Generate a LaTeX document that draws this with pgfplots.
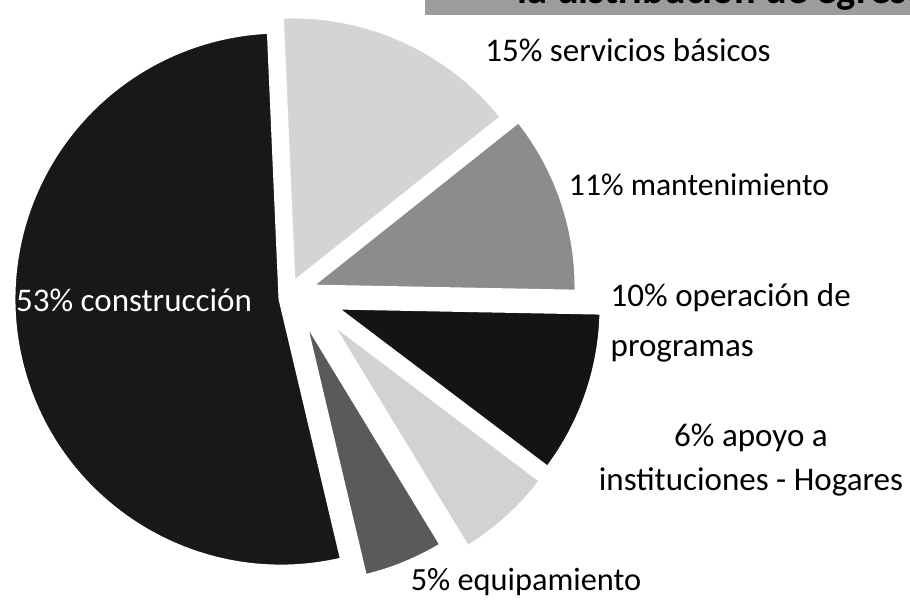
\documentclass[border=0pt]{standalone}
\usepackage{pgfplots}
\pgfplotsset{compat=1.18}
\usepackage{pgfplotstable}
\usepackage{fontspec}
\setmainfont{Carlito}
\definecolor{cConstr}{HTML}{181818}
\definecolor{cServ}{HTML}{D4D4D4}
\definecolor{cMant}{HTML}{8C8C8C}
\definecolor{cOper}{HTML}{141414}
\definecolor{cApoyo}{HTML}{D2D2D2}
\definecolor{cEquip}{HTML}{5A5A5A}
\definecolor{cTitle}{HTML}{9C9C9C}
% slice percentages (clockwise from the top), colour, and the (exploded) vertex of each slice
\pgfplotstableread{
pct col vx vy
15 cServ 293 321
11 cMant 309 318
10 cOper 334 298
6 cApoyo 328 286
5 cEquip 303 289
53 cConstr 281 306
}\slices
\begin{document}
\begin{tikzpicture}
\useasboundingbox (0,0) rectangle (9.1cm,6.05cm);
\begin{axis}[scale only axis, width=9.1cm, height=6.05cm,
  xmin=0, xmax=910, ymin=0, ymax=605, hide axis, clip=false]
\def\R{2.68cm}
\xdef\curang{92.5}
\pgfplotsforeachungrouped \i in {0,...,5}{%
  \pgfplotstablegetelem{\i}{pct}\of\slices \let\p\pgfplotsretval
  \pgfplotstablegetelem{\i}{col}\of\slices \let\c\pgfplotsretval
  \pgfplotstablegetelem{\i}{vx}\of\slices \let\vx\pgfplotsretval
  \pgfplotstablegetelem{\i}{vy}\of\slices \let\vy\pgfplotsretval
  \pgfmathsetmacro\endang{\curang-\p*3.6}%
  \edef\cmd{\noexpand\fill[fill=\c, draw=white, line width=1.4pt, line join=round]
    (axis cs:\vx,\vy) -- ++(\curang:\R) arc[start angle=\curang, end angle=\endang, radius=\R] -- cycle;}%
  \cmd
  \xdef\curang{\endang}%
}
\fill[cTitle] (axis cs:425,590) rectangle (axis cs:915,610);
\node[anchor=base east, font=\fontsize{11.5}{13}\selectfont\bfseries, inner sep=0pt] at (axis cs:945,601.5) {la distribución de egresos};
\node[font=\fontsize{9.4}{11}\selectfont, text=white] at (axis cs:134,305) {53\% construcción};
\node[font=\fontsize{9.4}{11}\selectfont] at (axis cs:628,555) {15\% servicios básicos};
\node[font=\fontsize{9.0}{11}\selectfont] at (axis cs:699,420) {11\% mantenimiento};
\node[font=\fontsize{9.4}{14.2}\selectfont, align=left, anchor=west, inner sep=0pt] at (axis cs:610,282) {10\% operación de\\programas};
\node[font=\fontsize{9.4}{12.3}\selectfont, align=center] at (axis cs:751,145) {6\% apoyo a\\instituciones - Hogares};
\node[font=\fontsize{9.2}{11}\selectfont] at (axis cs:526,23) {5\% equipamiento};
\end{axis}
\end{tikzpicture}
\end{document}
